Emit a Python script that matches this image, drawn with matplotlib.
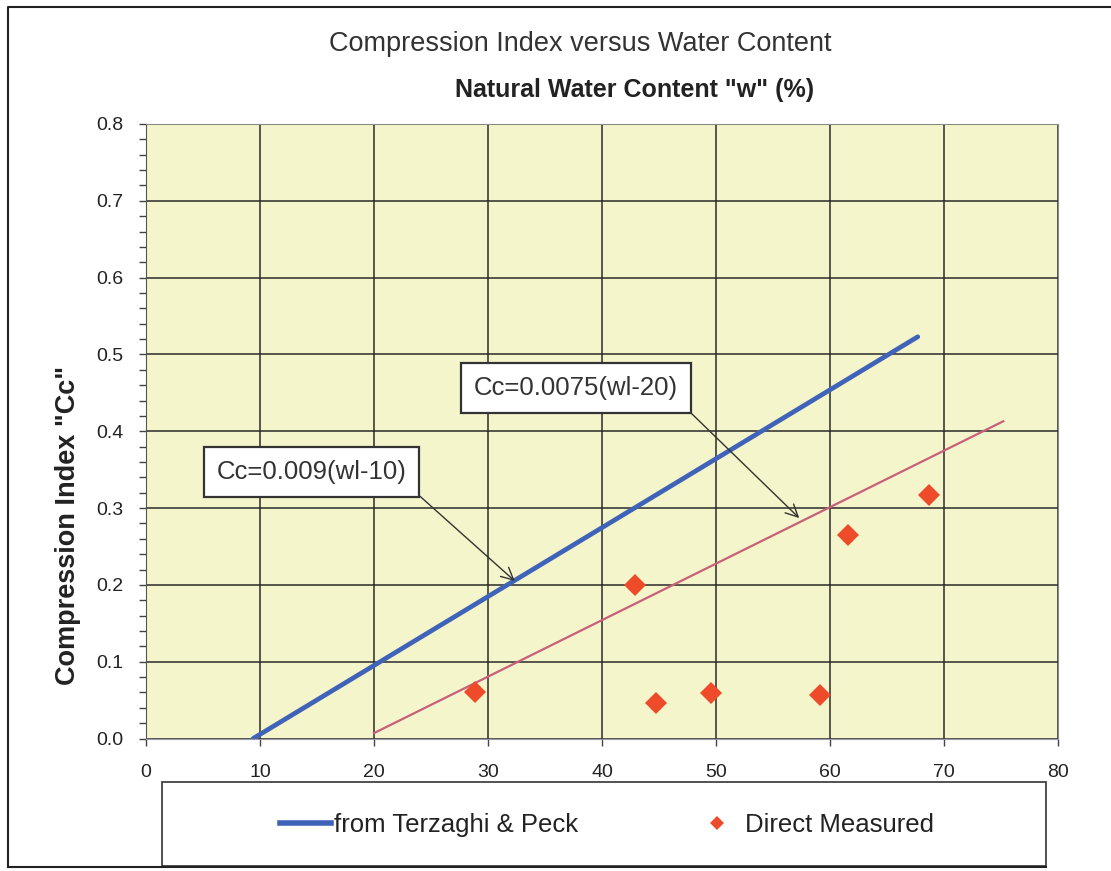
import matplotlib.pyplot as plt
from matplotlib.patches import Rectangle
from matplotlib.lines import Line2D
from matplotlib.ticker import MultipleLocator, FormatStrFormatter

plt.rcParams['font.family'] = ['Liberation Sans', 'DejaVu Sans']

# measured points
water_content = [28.9, 42.9, 44.7, 49.6, 59.1, 61.6, 68.7]
cc_measured = [0.061, 0.200, 0.046, 0.059, 0.056, 0.265, 0.317]

# Terzaghi & Peck line, Cc = 0.009(wl-10)
terzaghi_w = [9.4, 67.7]
terzaghi_cc = [0.0, 0.523]

# second correlation, Cc = 0.0075(wl-20)
alt_w = [20.0, 75.2]
alt_cc = [0.007, 0.413]

x_ticks = [0, 10, 20, 30, 40, 50, 60, 70, 80]

fig = plt.figure(figsize=(11.11, 8.71), dpi=100)
ax = fig.add_axes([146 / 1111, 1 - 738.5 / 871, 912 / 1111, 614.5 / 871])

ax.set_facecolor('#F5F5CB')
ax.set_xlim(0, 80)
ax.set_ylim(0, 0.8)
ax.set_xticks(x_ticks)
ax.yaxis.set_major_locator(MultipleLocator(0.1))
ax.yaxis.set_minor_locator(MultipleLocator(0.02))
ax.yaxis.set_major_formatter(FormatStrFormatter('%.1f'))
ax.grid(True, which='major', color='#2a2a2a', linewidth=1.1)
ax.set_axisbelow(True)
ax.tick_params(axis='both', which='major', direction='out', length=5, width=1,
               color='#444444', labelsize=14, labelcolor='#222222')
ax.tick_params(axis='y', which='major', pad=11)
ax.tick_params(axis='x', which='major', pad=13)
ax.tick_params(axis='y', which='minor', direction='out', length=5, width=1, color='#444444')
for side in ['top', 'right']:
    ax.spines[side].set_color('#8a8a8a')
ax.spines['left'].set_color('#555555')
ax.spines['bottom'].set_color('#9a9aaa')

ax.plot(terzaghi_w, terzaghi_cc, color='#3F63B8', linewidth=3.4, solid_capstyle='round')
ax.plot(alt_w, alt_cc, color='#C8607A', linewidth=1.6)
ax.plot(water_content, cc_measured, linestyle='none', marker='D', markersize=11.5,
        color='#EE4B2B', markeredgewidth=0)

box = dict(boxstyle='square,pad=0.5', facecolor='white', edgecolor='#333333', linewidth=1.6)
arrow = dict(arrowstyle='->', color='#333333', linewidth=1.0, relpos=(1, 0),
             shrinkA=0, shrinkB=0, mutation_scale=22)
ax.annotate('Cc=0.009(wl-10)', xy=(32.35, 0.205), xytext=(14.5, 0.347),
            ha='center', va='center', fontsize=18.5, color='#333333',
            bbox=box, arrowprops=arrow)
ax.annotate('Cc=0.0075(wl-20)', xy=(57.3, 0.287), xytext=(37.7, 0.456),
            ha='center', va='center', fontsize=18.5, color='#333333',
            bbox=box, arrowprops=arrow)

fig.text(580 / 1111, 1 - 44 / 871, 'Compression Index versus Water Content',
         ha='center', va='center', fontsize=19.5, color='#333333')
fig.text(635 / 1111, 1 - 90 / 871, 'Natural Water Content "w" (%)',
         ha='center', va='center', fontsize=18, fontweight='bold', color='#222222')
fig.text(68 / 1111, 1 - 525 / 871, 'Compression Index "Cc"', rotation=90,
         ha='center', va='center', fontsize=19.5, fontweight='bold', color='#222222')

# legend frame and entries
fig.patches.append(Rectangle((162 / 1111, 1 - 866 / 871), 884 / 1111, 84 / 871,
                             transform=fig.transFigure, facecolor='white',
                             edgecolor='#333333', linewidth=1.2))
handles = [Line2D([], [], color='#3F63B8', linewidth=4),
           Line2D([], [], linestyle='none', marker='D', markersize=7,
                  color='#EE4B2B', markeredgewidth=0)]
fig.legend(handles, ['from Terzaghi & Peck', 'Direct Measured'], ncol=2,
           loc='center', bbox_to_anchor=(607 / 1111, 1 - 825 / 871),
           frameon=False, fontsize=18.5, handlelength=2.0, handletextpad=0.1,
           columnspacing=4.4, labelcolor='#222222')

# outer chart border (right side falls outside the picture)
fig.add_artist(Line2D([8 / 1111, 8 / 1111, 1.0], [1 - 867 / 871, 1 - 7 / 871, 1 - 7 / 871],
                      transform=fig.transFigure, color='#222222', linewidth=1.5))
fig.add_artist(Line2D([8 / 1111, 1046 / 1111], [1 - 867 / 871, 1 - 867 / 871],
                      transform=fig.transFigure, color='#222222', linewidth=1.5))

fig.savefig('out.png', dpi=100)
